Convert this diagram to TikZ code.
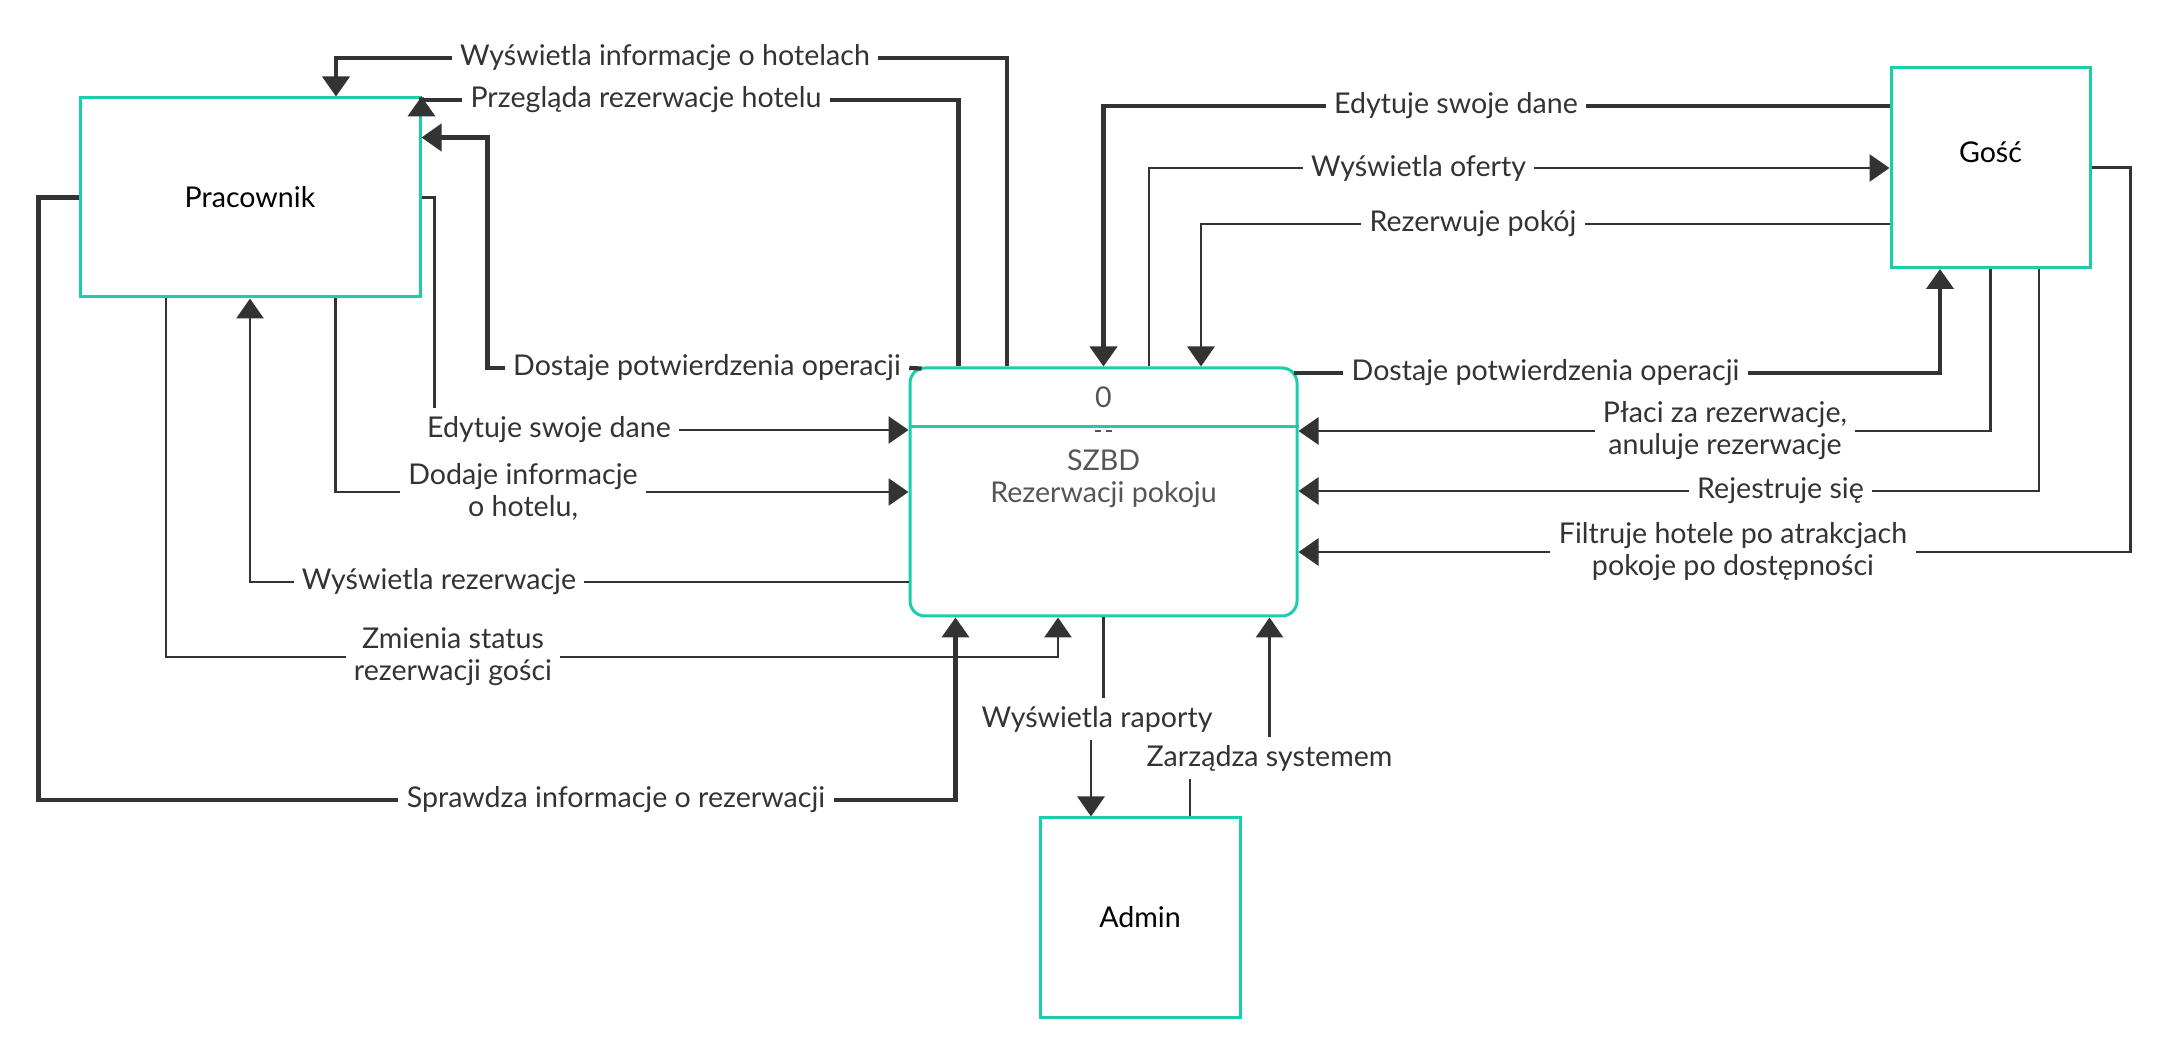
\documentclass[tikz,border=0pt]{standalone}
\usepackage{fontspec}
\setmainfont{Lato}
\usetikzlibrary{arrows.meta}

\definecolor{mint}{RGB}{26,206,172}
\definecolor{ink}{RGB}{51,51,51}
\definecolor{dimink}{RGB}{85,85,85}

\tikzset{
    entity/.style={draw=mint, line width=1.5pt, text=black, font=\fontsize{14.3}{17}\selectfont},
    entitytext/.style={text=black, font=\fontsize{14.3}{17}\selectfont},
    process/.style={draw=mint, line width=1.5pt, rounded corners=7.5pt, minimum width=193.5pt, minimum height=124pt},
    flowlabel/.style={font=\fontsize{14.3}{16}\selectfont, text=ink, align=center, inner sep=4pt},
    flow/.style={draw=ink, line width=1.45pt},
    heavy/.style={line width=2.1pt},
    arrowed/.style={-{Triangle[width=13.5pt,length=10pt]}}
}

\begin{document}
\begin{tikzpicture}[x=0.5pt, y=-0.5pt]  % one unit = one pixel of the sketch, y going down
    \useasboundingbox (0,0) rectangle (2170,1058);

    % Draw the external entities
    \node[entity, minimum width=170pt, minimum height=99.5pt] (prac) at (250,197.5) {Pracownik};
    \node[entity, minimum width=99.5pt, minimum height=100pt,
          label={[entitytext, yshift=7.5pt]center:Gość}] (gosc) at (1990.5,167.5) {};
    \node[entity, minimum width=100pt, minimum height=99.5pt] (admin) at (1140,917.5) {Admin};

    % Draw the process with its number band
    \node[process] (szbd) at (1103.5,492) {};
    \draw[mint, line width=1.5pt] ([yshift=-30pt]szbd.north west) -- ([yshift=-30pt]szbd.north east);
    \node[flowlabel, text=dimink] (szbdid) at (1103.5,397) {0};
    \node[flowlabel, text=dimink] (szbdname) at (1103.5,479) {SZBD\\Rezerwacji pokoju};
    \draw[dimink, line width=0.8pt] (1095,431) -- (1101,431) (1106,431) -- (1112,431);

    % Labels of the flows
    \node[flowlabel] (l1) at (665,58) {Wyświetla informacje o hotelach};
    \node[flowlabel] (l2) at (646,100) {Przegląda rezerwacje hotelu};
    \node[flowlabel] (l3) at (707,368) {Dostaje potwierdzenia operacji};
    \node[flowlabel] (l4) at (549,430) {Edytuje swoje dane};
    \node[flowlabel] (l5) at (523,492) {Dodaje informacje\\o hotelu,};
    \node[flowlabel] (l6) at (439,582) {Wyświetla rezerwacje};
    \node[flowlabel] (l7) at (453,657) {Zmienia status\\rezerwacji gości};
    \node[flowlabel] (l8) at (616,800) {Sprawdza informacje o rezerwacji};
    \node[flowlabel] (l9) at (1456,106) {Edytuje swoje dane};
    \node[flowlabel] (l10) at (1418.5,168) {Wyświetla oferty};
    \node[flowlabel] (l11) at (1473,224) {Rezerwuje pokój};
    \node[flowlabel] (l12) at (1545.5,373) {Dostaje potwierdzenia operacji};
    \node[flowlabel] (l13) at (1725,431) {Płaci za rezerwacje,\\anuluje rezerwacje};
    \node[flowlabel] (l14) at (1780.5,491) {Rejestruje się};
    \node[flowlabel] (l15) at (1733,552) {Filtruje hotele po atrakcjach\\pokoje po dostępności};
    \node[flowlabel] (l16) at (1097,719) {Wyświetla raporty};
    \node[flowlabel] (l17) at (1269.5,758) {Zarządza systemem};

    % Pracownik <-> SZBD
    \draw[flow, heavy] ([xshift=-48.25pt]szbd.north) |- (l1.east);
    \draw[flow, heavy, arrowed] (l1.west) -| ([xshift=43pt]prac.north);
    \draw[flow, heavy] ([xshift=-72.5pt]szbd.north) |- (l2.east);
    \draw[flow, heavy, arrowed] (l2.west) -| ([yshift=-0.5pt]prac.north east) -- (prac.north east);
    \draw[flow, heavy] ([xshift=6.5pt, yshift=-1pt]szbd.north west) -- (l3.east);
    \draw[flow, heavy, arrowed] (l3.west) -| ([xshift=33pt, yshift=30pt]prac.east) -- ([yshift=30pt]prac.east);
    \draw[flow] (prac.east) -| ([xshift=8pt]l4.north west);
    \draw[flow, arrowed] (l4.east) -- (l4.east -| szbd.west);
    \draw[flow] ([xshift=42.75pt]prac.south) |- (l5.west);
    \draw[flow, arrowed] (l5.east) -- (l5.east -| szbd.west);
    \draw[flow] (l6.east -| szbd.west) -- (l6.east);
    \draw[flow, arrowed] (l6.west) -| (prac.south);
    \draw[flow] ([xshift=-42pt]prac.south) |- (l7.west);
    \draw[flow, arrowed] (l7.east) -| ([xshift=-22.75pt]szbd.south);
    \draw[flow, heavy] (prac.west) -- ++(-20pt,0) |- (l8.west);
    \draw[flow, heavy, arrowed] (l8.east) -| ([xshift=-74pt]szbd.south);

    % Gość <-> SZBD
    \draw[flow, heavy] (l9.east -| gosc.west) -- (l9.east);
    \draw[flow, heavy, arrowed] (l9.west) -| (szbd.north);
    \draw[flow] ([xshift=22.75pt]szbd.north) |- (l10.west);
    \draw[flow, arrowed] (l10.east) -- (l10.east -| gosc.west);
    \draw[flow] (l11.east -| gosc.west) -- (l11.east);
    \draw[flow, arrowed] (l11.west) -| ([xshift=48.75pt]szbd.north);
    \draw[flow, heavy, shorten >=-2.5pt] (l12.west) -- (l12.west -| szbd.east);
    \draw[flow, heavy, arrowed] (l12.east) -| ([xshift=-25.25pt]gosc.south);
    \draw[flow] (gosc.south) |- (l13.east);
    \draw[flow, arrowed] (l13.west) -- (l13.west -| szbd.east);
    \draw[flow] ([xshift=24.25pt]gosc.south) |- (l14.east);
    \draw[flow, arrowed] (l14.west) -- (l14.west -| szbd.east);
    \draw[flow] (gosc.east) -- ++(19.5pt,0) |- (l15.east);
    \draw[flow, arrowed] (l15.west) -- (l15.west -| szbd.east);

    % Admin <-> SZBD
    \draw[flow] (szbd.south) -- (szbd.south |- l16.north);
    \draw[flow, arrowed] ([xshift=-3pt]l16.south) -- ([xshift=-24.5pt]admin.north);
    \draw[flow] ([xshift=25pt]admin.north) -- ([xshift=-39.75pt]l17.south);
    \draw[flow, arrowed] (l17.north) -- ([xshift=83pt]szbd.south);

\end{tikzpicture}
\end{document}
